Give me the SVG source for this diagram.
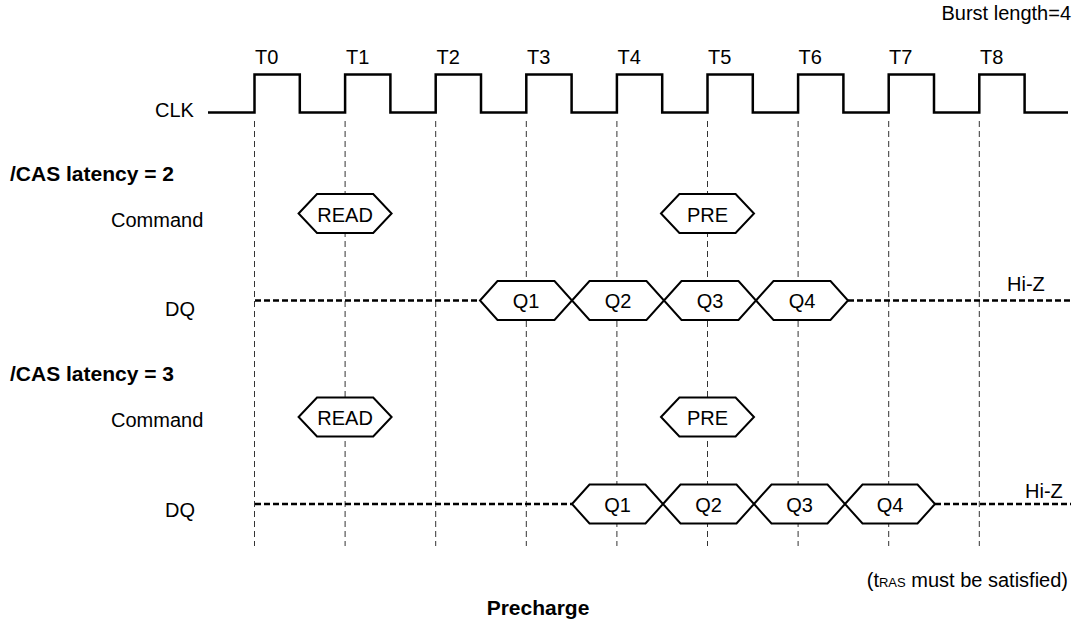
<svg xmlns="http://www.w3.org/2000/svg" width="1077" height="622" viewBox="0 0 1077 622">
<style>
text{font-family:"Liberation Sans",Arial,sans-serif;font-size:20px;fill:#000}
.b{font-weight:bold;font-size:21px}
.m{text-anchor:middle}
.e{text-anchor:end}
.hex{fill:#fff;stroke:#000;stroke-width:2;stroke-linejoin:miter}
.grid{stroke:#333;stroke-width:1;stroke-dasharray:6 4;fill:none}
.hz{stroke:#000;stroke-width:2.5;stroke-dasharray:6 3;fill:none}
.clk{fill:none;stroke:#000;stroke-width:2.5;stroke-linejoin:miter}
</style>
<rect width="1077" height="622" fill="#fff"/>
<g id="gridlines">
<path class="grid" d="M254.5,121V546M345.1,121V546M435.7,121V546M526.3,121V546M616.9,121V546M707.5,121V546M798.1,121V546M888.7,121V546M979.3,121V546"/>
</g>
<g id="connectors">
<path class="hz" d="M255,300.5H480M848,300.5H1071"/>
<path class="hz" d="M255,504H572M935,504H1071"/>
</g>
<g id="clock">
<path class="clk" d="M208,112.5H254.5V74.5H299.8V112.5H345.1V74.5H390.4V112.5H435.7V74.5H481V112.5H526.3V74.5H571.6V112.5H616.9V74.5H662.2V112.5H707.5V74.5H752.8V112.5H798.1V74.5H843.4V112.5H888.7V74.5H934V112.5H979.3V74.5H1024.6V112.5H1068"/>
<text x="155" y="117">CLK</text>
<text x="255" y="64">T0</text>
<text x="346" y="64">T1</text>
<text x="436.5" y="64">T2</text>
<text x="527" y="64">T3</text>
<text x="617.5" y="64">T4</text>
<text x="708" y="64">T5</text>
<text x="798.5" y="64">T6</text>
<text x="889" y="64">T7</text>
<text x="980" y="64">T8</text>
</g>
<g id="header">
<text class="e" x="1071" y="20">Burst length=4</text>
</g>
<g id="cl2-labels">
<text class="b" x="10" y="181">/CAS latency = 2</text>
<text x="111" y="227">Command</text>
<text x="165" y="316">DQ</text>
<text x="1007" y="291">Hi-Z</text>
</g>
<g id="cl2-read">
<path class="hex" d="M298.6,213.5L317,194H373.2L391.6,213.5L373.2,233H317Z"/>
<text class="m" x="345.1" y="221.5">READ</text>
</g>
<g id="cl2-pre">
<path class="hex" d="M661,213.5L679.4,194H735.6L754,213.5L735.6,233H679.4Z"/>
<text class="m" x="707.5" y="221.5">PRE</text>
</g>
<g id="cl2-q1">
<path class="hex" d="M480,300.5L497.5,281H554.5L572,300.5L554.5,320H497.5Z"/>
<text class="m" x="526" y="308">Q1</text>
</g>
<g id="cl2-q2">
<path class="hex" d="M572,300.5L589.5,281H646.5L664,300.5L646.5,320H589.5Z"/>
<text class="m" x="618" y="308">Q2</text>
</g>
<g id="cl2-q3">
<path class="hex" d="M664,300.5L681.5,281H738.5L756,300.5L738.5,320H681.5Z"/>
<text class="m" x="710" y="308">Q3</text>
</g>
<g id="cl2-q4">
<path class="hex" d="M756,300.5L773.5,281H830.5L848,300.5L830.5,320H773.5Z"/>
<text class="m" x="802" y="308">Q4</text>
</g>
<g id="cl3-labels">
<text class="b" x="10" y="381">/CAS latency = 3</text>
<text x="111" y="427">Command</text>
<text x="165" y="517">DQ</text>
<text x="1025" y="498">Hi-Z</text>
</g>
<g id="cl3-read">
<path class="hex" d="M298.6,417L317,397.5H373.2L391.6,417L373.2,436.5H317Z"/>
<text class="m" x="345.1" y="425">READ</text>
</g>
<g id="cl3-pre">
<path class="hex" d="M661,417L679.4,397.5H735.6L754,417L735.6,436.5H679.4Z"/>
<text class="m" x="707.5" y="425">PRE</text>
</g>
<g id="cl3-q1">
<path class="hex" d="M572,504L589.5,484.5H645.5L663,504L645.5,523.5H589.5Z"/>
<text class="m" x="617.5" y="511.5">Q1</text>
</g>
<g id="cl3-q2">
<path class="hex" d="M663,504L680.5,484.5H736.5L754,504L736.5,523.5H680.5Z"/>
<text class="m" x="708.5" y="511.5">Q2</text>
</g>
<g id="cl3-q3">
<path class="hex" d="M754,504L771.5,484.5H827.5L845,504L827.5,523.5H771.5Z"/>
<text class="m" x="799.5" y="511.5">Q3</text>
</g>
<g id="cl3-q4">
<path class="hex" d="M845,504L862.5,484.5H917.5L935,504L917.5,523.5H862.5Z"/>
<text class="m" x="890" y="511.5">Q4</text>
</g>
<g id="footer">
<text class="e" x="1068" y="587">(t<tspan font-size="13">RAS</tspan> must be satisfied)</text>
<text class="b m" x="538" y="615">Precharge</text>
</g>
</svg>
